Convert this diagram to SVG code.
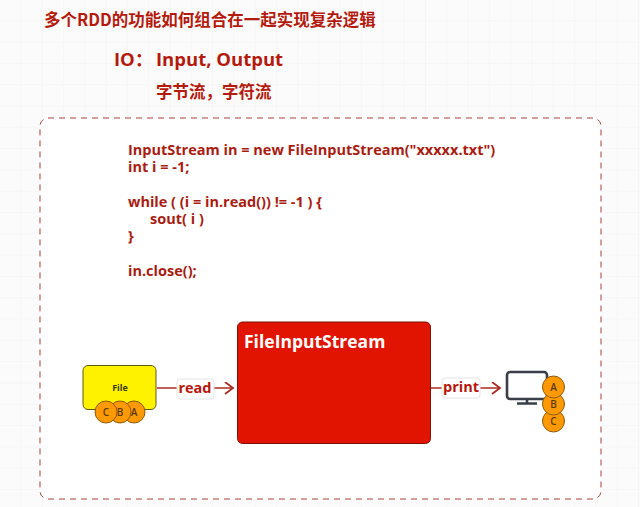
<svg xmlns="http://www.w3.org/2000/svg" width="640" height="507" viewBox="0 0 640 507">
<defs>
<pattern id="grid" width="21.3" height="21.3" patternUnits="userSpaceOnUse"><path d="M21.3 0V21.3H0" fill="none" stroke="#f1f1f1" stroke-width="1"/></pattern>
<marker id="arr" markerWidth="12" markerHeight="14" refX="9" refY="6" orient="auto" markerUnits="userSpaceOnUse"><path d="M1 0L9 6L1 12" fill="none" stroke="#a92a22" stroke-width="1.8"/></marker>
</defs>
<style>
text{font-family:"Open Sans","Noto Sans CJK SC",sans-serif;font-weight:700;fill:#b31b0e}
.h{font-family:"Noto Sans CJK SC","Open Sans",sans-serif}
.c{font-size:14.5px;fill:#a81c12}
.l{font-size:14.5px;text-anchor:middle;fill:#b5170b}
.o{fill:#ff9900;stroke:#8a5a10;stroke-width:1}
.t{font-size:10px;text-anchor:middle;fill:#5a3a10;font-weight:600}
.e{stroke:#a92a22;stroke-width:1.6;fill:none}
.lb{fill:#fff;stroke:#e4e4e4;stroke-width:1}
</style>
<rect width="640" height="507" fill="#fbfbfb"/>
<rect width="640" height="507" fill="url(#grid)"/>
<rect id="frame" x="40" y="118" width="561" height="381" rx="8" fill="#fff" stroke="#a5423c" stroke-width="1" stroke-dasharray="6 5"/>
<text class="h" x="44" y="26" font-size="16.5">多个RDD的功能如何组合在一起实现复杂逻辑</text>
<text x="114" y="66" font-size="18.5">IO：<tspan x="156">Input, Output</tspan></text>
<text class="h" x="156" y="98" font-size="16.5">字节流，字符流</text>
<text class="c" x="128" y="155">InputStream  in = new FileInputStream("xxxxx.txt")</text>
<text class="c" x="128" y="172">int i = -1;</text>
<text class="c" x="128" y="207">while ( (i = in.read()) != -1 ) {</text>
<text class="c" x="150" y="224">sout( i )</text>
<text class="c" x="128" y="241">}</text>
<text class="c" x="128" y="276">in.close();</text>
<g id="connectors">
<path class="e" d="M157 388H233" marker-end="url(#arr)"/>
<path class="e" d="M431 388H500" marker-end="url(#arr)"/>
</g>
<g id="read-label"><rect class="lb" x="177" y="379" width="37" height="20" rx="3"/><text class="l" x="195" y="393">read</text></g>
<g id="print-label"><rect class="lb" x="442" y="378" width="38" height="20" rx="3"/><text class="l" x="461" y="392">print</text></g>
<g id="file">
<rect x="83" y="365.500" width="73" height="44" rx="5" fill="#fff200" stroke="#5f5a12" stroke-width="1"/>
<text x="120" y="391" font-size="9" text-anchor="middle" style="fill:#3a3a10">File</text>
</g>
<g id="file-a"><circle class="o" cx="134" cy="412" r="11"/><text class="t" x="134" y="416">A</text></g>
<g id="file-b"><circle class="o" cx="120" cy="412" r="11"/><text class="t" x="120" y="416">B</text></g>
<g id="file-c"><circle class="o" cx="106" cy="412" r="11"/><text class="t" x="106" y="416">C</text></g>
<g id="fis">
<rect x="237.500" y="322" width="193" height="121.500" rx="5" fill="#e01400" stroke="#7c1208" stroke-width="1"/>
<text x="244" y="348" font-size="17.5" style="fill:#fff">FileInputStream</text>
</g>
<g id="monitor">
<rect x="507" y="372" width="40" height="27" rx="3" fill="#fff" stroke="#3a3f47" stroke-width="2.600"/>
<path d="M527 399V403M517 403.500H537" stroke="#3a3f47" stroke-width="2.600" fill="none"/>
</g>
<g id="mon-c"><circle class="o" cx="553.500" cy="421" r="11"/><text class="t" x="553.500" y="425">C</text></g>
<g id="mon-b"><circle class="o" cx="553.500" cy="404" r="11"/><text class="t" x="553.500" y="408">B</text></g>
<g id="mon-a"><circle class="o" cx="553.500" cy="387" r="11"/><text class="t" x="553.500" y="391">A</text></g>
</svg>
